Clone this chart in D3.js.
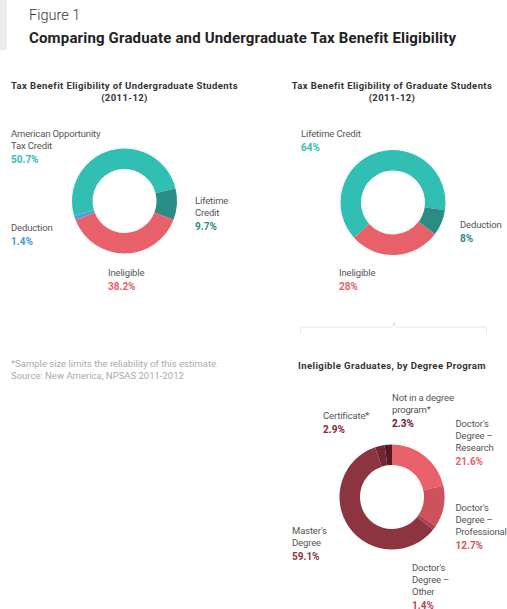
<!DOCTYPE html>
<html><head><meta charset="utf-8">
<script src="https://cdn.jsdelivr.net/npm/d3@7"></script>
<style>
html,body{margin:0;padding:0;background:#fff;}
svg{display:block;font-family:Roboto, "Noto Sans", sans-serif;}
</style></head>
<body>
<script>
// ---- data ----
const undergradCategories = ["American Opportunity Tax Credit", "Lifetime Credit", "Ineligible", "Deduction"];
const undergradValues = [50.7, 9.7, 38.2, 1.4];
const undergradLabels = ["50.7%", "9.7%", "38.2%", "1.4%"];
const undergradColors = ["#31bfb4", "#2a8c85", "#e8606a", "#5b9bd5"];
const undergradTextColors = ["#31bfb4", "#2a8c85", "#e8606a", "#4a98d8"];

const gradCategories = ["Lifetime Credit", "Deduction", "Ineligible"];
const gradValues = [64, 8, 28];
const gradLabels = ["64%", "8%", "28%"];
const gradColors = ["#31bfb4", "#2a8c85", "#e8606a"];

const degreeCategories = ["Doctor's Degree – Research", "Doctor's Degree – Professional", "Doctor's Degree – Other", "Master's Degree", "Certificate*", "Not in a degree program*"];
const degreeValues = [21.6, 12.7, 1.4, 59.1, 2.9, 2.3];
const degreeLabels = ["21.6%", "12.7%", "1.4%", "59.1%", "2.9%", "2.3%"];
const degreeColors = ["#e8606a", "#cc525c", "#ad424d", "#8c343f", "#742632", "#561a22"];
const degreeTextColors = ["#e8606a", "#d5545e", "#c2444f", "#8c343f", "#7e2b36", "#6a2030"];

// ---- layout (label text lines and anchor positions) ----
const undergradLabelLayout = [
  {lines:["American Opportunity","Tax Credit"], x:11, y:137},
  {lines:["Lifetime","Credit"], x:195, y:204},
  {lines:["Ineligible"], x:108, y:276},
  {lines:["Deduction"], x:11, y:231}
];
const gradLabelLayout = [
  {lines:["Lifetime Credit"], x:301, y:137},
  {lines:["Deduction"], x:460, y:228},
  {lines:["Ineligible"], x:339, y:276}
];
const degreeLabelLayout = [
  {lines:["Doctor's","Degree –","Research"], x:455.5, y:427},
  {lines:["Doctor's","Degree –","Professional"], x:455.5, y:511},
  {lines:["Doctor's","Degree –","Other"], x:412, y:571},
  {lines:["Master's","Degree"], x:292, y:534},
  {lines:["Certificate*"], x:323, y:419},
  {lines:["Not in a degree","program*"], x:392, y:401}
];

const W = 507, H = 609;
const svg = d3.select("body").append("svg").attr("width", W).attr("height", H);

// header
svg.append("rect").attr("x",0).attr("y",0).attr("width",7).attr("height",50).attr("fill","#ececec");
svg.append("text").attr("x",29).attr("y",20).attr("font-size",14.5).attr("font-weight",300).attr("fill","#333").text("Figure 1");
svg.append("text").attr("x",29).attr("y",43).attr("font-size",15).attr("font-weight",700).attr("fill","#222")
  .attr("letter-spacing",0.17)
  .text("Comparing Graduate and Undergraduate Tax Benefit Eligibility");

function title(lines, cx, y0){
  lines.forEach((l,i)=>{
    svg.append("text").attr("x",cx).attr("y",y0+i*12).attr("text-anchor","middle")
      .attr("font-size",9.5).attr("font-weight",700).attr("letter-spacing",0.4)
      .attr("fill","#333").text(l);
  });
}
title(["Tax Benefit Eligibility of Undergraduate Students","(2011-12)"], 124.5, 89);
title(["Tax Benefit Eligibility of Graduate Students","(2011-12)"], 392, 89);
title(["Ineligible Graduates, by Degree Program"], 392, 369);

const rOuter = 52.5, rInner = 32;
function donut(values, colors, cx, cy, startDeg){
  const s = startDeg*Math.PI/180;
  const pie = d3.pie().sort(null).startAngle(s).endAngle(s+2*Math.PI);
  const arc = d3.arc().innerRadius(rInner).outerRadius(rOuter);
  const g = svg.append("g").attr("transform",`translate(${cx},${cy})`);
  g.selectAll("path").data(pie(values)).join("path")
    .attr("d",arc).attr("fill",(d,i)=>colors[i]);
}
function labels(layout, vals, tcolors){
  layout.forEach((L,i)=>{
    L.lines.forEach((t,j)=>{
      svg.append("text").attr("x",L.x).attr("y",L.y+j*12).attr("font-size",9.5)
        .attr("letter-spacing",-0.15).attr("fill","#555").text(t);
    });
    svg.append("text").attr("x",L.x).attr("y",L.y+(L.lines.length-1)*12+13.5)
      .attr("font-size",10).attr("font-weight",700).attr("fill",tcolors[i]).text(vals[i]);
  });
}

donut(undergradValues, undergradColors, 124.5, 201, -106.5);
labels(undergradLabelLayout, undergradLabels, undergradTextColors);

donut(gradValues, gradColors, 393, 202.5, -132);
labels(gradLabelLayout, gradLabels, gradColors);

donut(degreeValues, degreeColors, 392, 497, 0);
labels(degreeLabelLayout, degreeLabels, degreeTextColors);

// bracket linking graduate "Ineligible" to the breakdown
svg.append("path")
  .attr("d","M300.5,333 L300.5,328.5 Q300.5,327 302,327 L391,327 Q393.5,327 394,322 Q394.5,327 397,327 L485,327 Q486.5,327 486.5,328.5 L486.5,333")
  .attr("fill","none").attr("stroke","#e4e4e4").attr("stroke-width",1);

// footnotes
svg.append("text").attr("x",11).attr("y",367).attr("font-size",9.5).attr("fill","#aaa")
  .text("*Sample size limits the reliability of this estimate.");
svg.append("text").attr("x",11).attr("y",378.5).attr("font-size",9.5).attr("fill","#aaa")
  .text("Source: New America, NPSAS 2011-2012");
</script>
</body></html>
